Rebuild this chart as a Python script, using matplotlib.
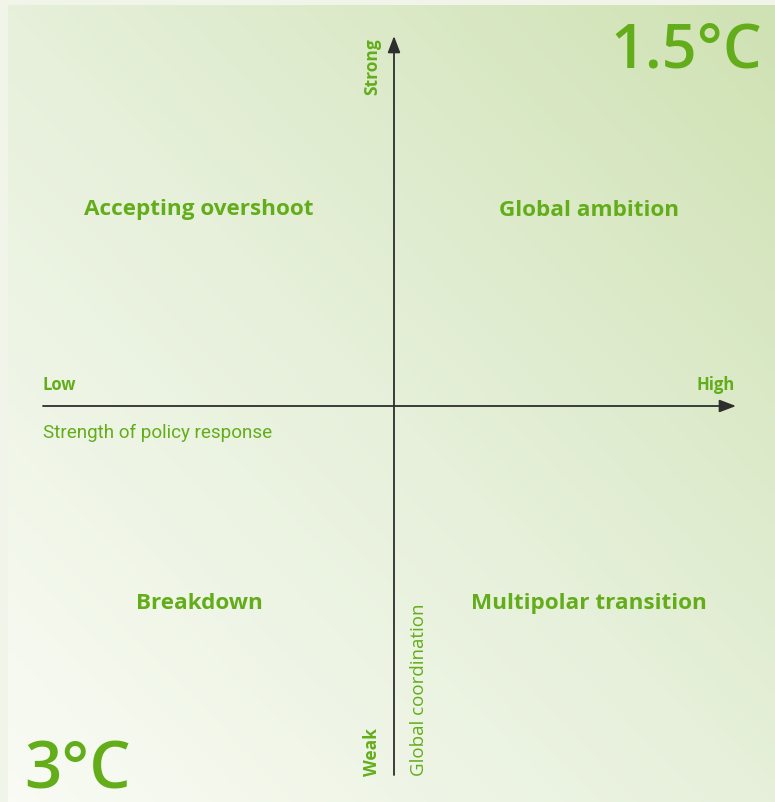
import numpy as np
import matplotlib.pyplot as plt
from matplotlib.colors import LinearSegmentedColormap

# scenario grid data
quadrants = ['Accepting overshoot', 'Global ambition', 'Breakdown', 'Multipolar transition']
quad_pos = [(-1, 1), (1, 1), (-1, -1), (1, -1)]   # (policy, coordination)
x_ends = ['Low', 'High']
y_ends = ['Weak', 'Strong']
x_title = 'Strength of policy response'
y_title = 'Global coordination'
temps = ['1.5°C', '3°C']

GREEN = '#63ad1b'
W, H = 775, 803

fig = plt.figure(figsize=(W / 100, H / 100), dpi=100)
fig.patch.set_facecolor('#f1f5e9')
ax = fig.add_axes([0, 0, 1, 1])
ax.set_xlim(0, W)
ax.set_ylim(H, 0)
ax.axis('off')

# diagonal gradient panel
cmap = LinearSegmentedColormap.from_list('bg', ['#f9fbf4', '#e6f0da', '#cfe2b3'])
gx, gy = np.meshgrid(np.linspace(0, 1, 200), np.linspace(0, 1, 200))
grad = (gx + (1 - gy)) / 2
ax.imshow(grad, cmap=cmap, extent=(8, W, H, 6), aspect='auto', zorder=0)

# axes origin in pixels
ox, oy = 394, 407
sx, sy = 195, 197   # quadrant label offsets

arrow = dict(arrowstyle='-|>,head_length=1.0,head_width=0.38',
             color='#2e2e2e', lw=1.3, shrinkA=0, shrinkB=0)
ax.annotate('', xy=(736, oy), xytext=(43, oy), arrowprops=arrow)
ax.annotate('', xy=(ox, 37), xytext=(ox, 776), arrowprops=arrow)

font = 'Open Sans'
for name, (px, py) in zip(quadrants, quad_pos):
    ax.text(ox + px * sx, oy - py * sy, name,
            ha='center', va='center', color=GREEN, fontsize=16.2,
            fontweight='bold', family=font)

ax.text(43, 385, x_ends[0], ha='left', va='center', color=GREEN,
        fontsize=12, fontweight='bold', family=font)
ax.text(735, 385, x_ends[1], ha='right', va='center', color=GREEN,
        fontsize=12, fontweight='bold', family=font)
ax.text(43, 433, x_title, ha='left', va='center', color=GREEN,
        fontsize=13.6, family='Roboto')

ax.text(372, 38, y_ends[1], ha='center', va='top', rotation=90, color=GREEN,
        fontsize=12.5, fontweight='bold', family=font)
ax.text(372, 776, y_ends[0], ha='center', va='bottom', rotation=90, color=GREEN,
        fontsize=12.5, fontweight='bold', family=font)
ax.text(419, 776, y_title, ha='center', va='bottom', rotation=90, color=GREEN,
        fontsize=13.5, family=font)

ax.text(762, 51, temps[0], ha='right', va='center', color=GREEN,
        fontsize=44, fontweight='semibold', family=font)
ax.text(24, 772, temps[1], ha='left', va='center', color=GREEN,
        fontsize=47, fontweight='semibold', family=font)

fig.savefig('out.png', dpi=100, facecolor=fig.get_facecolor())
